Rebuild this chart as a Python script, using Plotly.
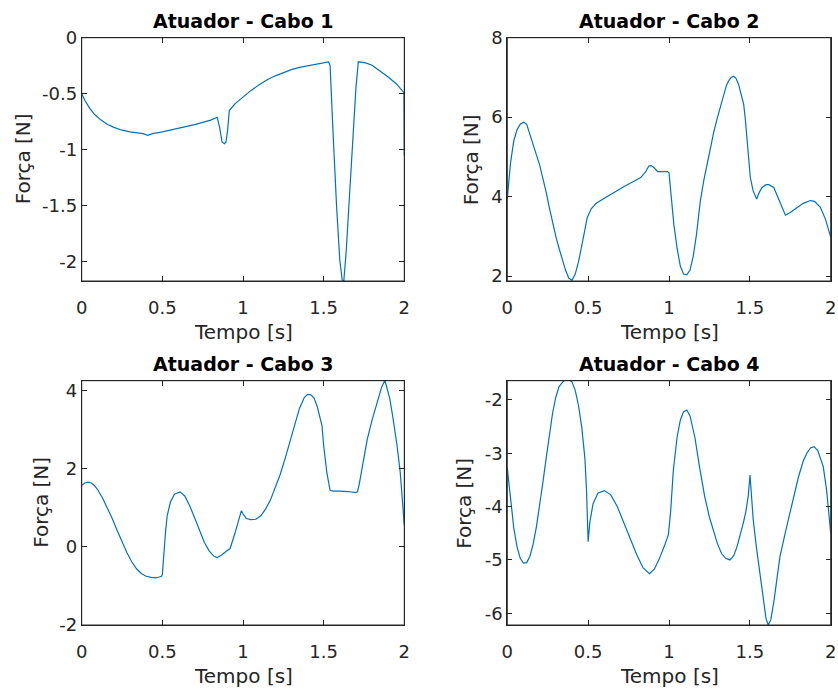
import plotly.graph_objects as go

# ---------------- data ----------------
t1 = [0.00, 0.02, 0.05, 0.08, 0.12, 0.16, 0.20, 0.25, 0.30, 0.35, 0.38, 0.41, 0.44,
      0.50, 0.60, 0.70, 0.80, 0.84, 0.855, 0.87, 0.885, 0.895, 0.905, 0.915, 0.95,
      1.00, 1.05, 1.10, 1.15, 1.20, 1.25, 1.30, 1.35, 1.40, 1.45, 1.50, 1.53, 1.54,
      1.545, 1.56, 1.58, 1.60, 1.615, 1.625, 1.64, 1.66, 1.68, 1.70, 1.715, 1.73,
      1.76, 1.80, 1.85, 1.90, 1.95, 1.998, 2.00]
f1 = [-0.50, -0.56, -0.63, -0.685, -0.735, -0.775, -0.80, -0.825, -0.84, -0.85, -0.855, -0.87, -0.855,
      -0.84, -0.81, -0.775, -0.735, -0.71, -0.80, -0.93, -0.945, -0.93, -0.82, -0.65, -0.59,
      -0.53, -0.47, -0.42, -0.375, -0.34, -0.31, -0.285, -0.265, -0.25, -0.235, -0.222, -0.215, -0.25,
      -0.45, -0.90, -1.50, -1.98, -2.16, -2.17, -1.90, -1.40, -0.90, -0.45, -0.215, -0.217,
      -0.225, -0.245, -0.295, -0.35, -0.41, -0.49, -1.05]

t2 = [0.00, 0.02, 0.04, 0.06, 0.08, 0.10, 0.12, 0.14, 0.16, 0.18, 0.20, 0.22, 0.24, 0.26,
      0.28, 0.30, 0.32, 0.34, 0.36, 0.38, 0.40, 0.42, 0.44, 0.46, 0.48, 0.495, 0.52, 0.55,
      0.60, 0.66, 0.72, 0.78, 0.825, 0.855, 0.875, 0.89, 0.91, 0.93, 0.99, 1.00,
      1.01, 1.03, 1.05, 1.07, 1.09, 1.11, 1.13, 1.15, 1.17, 1.194, 1.215, 1.235, 1.255, 1.276,
      1.297, 1.317, 1.338, 1.355, 1.37, 1.385, 1.40, 1.415, 1.43, 1.445, 1.462, 1.472, 1.482,
      1.493, 1.503, 1.52, 1.542, 1.56, 1.576, 1.60, 1.617, 1.648, 1.67, 1.689, 1.705, 1.72,
      1.75, 1.792, 1.83, 1.874, 1.90, 1.936, 1.967, 2.00]
f2 = [3.95, 4.85, 5.40, 5.68, 5.82, 5.87, 5.82, 5.58, 5.33, 5.05, 4.80, 4.48, 4.12, 3.72,
      3.35, 3.00, 2.70, 2.40, 2.15, 1.95, 1.89, 2.05, 2.35, 2.75, 3.15, 3.48, 3.70, 3.83,
      3.96, 4.11, 4.25, 4.38, 4.48, 4.62, 4.77, 4.78, 4.72, 4.63, 4.63, 4.60,
      4.20, 3.30, 2.70, 2.25, 2.05, 2.03, 2.15, 2.50, 3.05, 3.90, 4.40, 4.82, 5.25, 5.61,
      5.95, 6.23, 6.57, 6.80, 6.92, 7.00, 7.03, 6.97, 6.83, 6.62, 6.32, 5.95, 5.48,
      4.95, 4.48, 4.15, 3.94, 4.12, 4.23, 4.30, 4.30, 4.23, 4.02, 3.86, 3.68, 3.53,
      3.60, 3.73, 3.83, 3.90, 3.88, 3.73, 3.44, 2.98]

t3 = [0.00, 0.02, 0.04, 0.06, 0.08, 0.10, 0.13, 0.16, 0.19, 0.22, 0.25, 0.28, 0.31, 0.34,
      0.37, 0.40, 0.43, 0.46, 0.48, 0.495, 0.50, 0.51, 0.52, 0.53, 0.55, 0.575, 0.61, 0.64,
      0.67, 0.70, 0.73, 0.76, 0.79, 0.82, 0.84, 0.87, 0.90, 0.92, 0.95, 0.98, 0.99, 1.00,
      1.02, 1.05, 1.08, 1.11, 1.14, 1.17, 1.20, 1.23, 1.26, 1.29, 1.32, 1.35, 1.38, 1.40,
      1.42, 1.44, 1.46, 1.48, 1.49, 1.50, 1.52, 1.54, 1.56, 1.60, 1.65, 1.70, 1.71, 1.72,
      1.74, 1.77, 1.80, 1.83, 1.86, 1.88, 1.91, 1.93, 1.955, 1.975, 1.99, 2.00]
f3 = [1.58, 1.64, 1.66, 1.64, 1.57, 1.46, 1.25, 1.00, 0.72, 0.42, 0.13, -0.14, -0.38, -0.56,
      -0.68, -0.75, -0.78, -0.79, -0.77, -0.75, -0.70, -0.10, 0.40, 0.80, 1.15, 1.35, 1.41, 1.30,
      1.05, 0.75, 0.42, 0.12, -0.10, -0.24, -0.27, -0.20, -0.10, -0.04, 0.35, 0.80, 0.93, 0.85,
      0.73, 0.70, 0.71, 0.80, 0.97, 1.20, 1.50, 1.85, 2.25, 2.70, 3.15, 3.55, 3.83, 3.91,
      3.90, 3.82, 3.60, 3.30, 3.10, 2.60, 1.90, 1.45, 1.43, 1.43, 1.42, 1.39, 1.42, 1.60,
      2.10, 2.75, 3.25, 3.70, 4.10, 4.27, 3.80, 3.30, 2.60, 1.90, 1.20, 0.55]

t4 = [0.00, 0.02, 0.04, 0.06, 0.08, 0.10, 0.12, 0.14, 0.16, 0.18, 0.20, 0.22, 0.24, 0.26,
      0.28, 0.30, 0.32, 0.35, 0.38, 0.40, 0.42, 0.44, 0.46, 0.48, 0.49, 0.50, 0.51, 0.53,
      0.56, 0.60, 0.64, 0.68, 0.72, 0.76, 0.80, 0.84, 0.88, 0.91, 0.94, 0.97, 0.996, 1.01,
      1.027, 1.05, 1.07, 1.09, 1.11, 1.13, 1.16, 1.19, 1.22, 1.25, 1.274, 1.30, 1.325, 1.35,
      1.377, 1.40, 1.42, 1.439, 1.46, 1.475, 1.49, 1.501, 1.51, 1.521, 1.54, 1.563, 1.585,
      1.60, 1.614, 1.63, 1.65, 1.686, 1.72, 1.745, 1.769, 1.80, 1.83, 1.852, 1.875, 1.897,
      1.92, 1.954, 1.975, 2.00]
f4 = [-3.28, -3.90, -4.40, -4.75, -4.97, -5.06, -5.05, -4.93, -4.70, -4.38, -4.00, -3.55, -3.10, -2.65,
      -2.25, -1.95, -1.75, -1.64, -1.62, -1.66, -1.82, -2.10, -2.50, -3.10, -3.70, -4.66, -4.30, -3.95,
      -3.75, -3.70, -3.78, -4.00, -4.30, -4.60, -4.90, -5.15, -5.26, -5.17, -4.98, -4.75, -4.53, -4.10,
      -3.31, -2.70, -2.38, -2.22, -2.19, -2.30, -2.70, -3.28, -3.80, -4.20, -4.44, -4.70, -4.88, -4.97,
      -5.00, -4.92, -4.76, -4.56, -4.30, -4.10, -3.80, -3.41, -3.80, -4.25, -4.75, -5.31, -5.80,
      -6.10, -6.22, -6.12, -5.75, -4.94, -4.48, -4.14, -3.81, -3.45, -3.15, -3.00, -2.90, -2.875,
      -2.95, -3.25, -3.70, -4.50]

titles = ["Atuador - Cabo 1", "Atuador - Cabo 2", "Atuador - Cabo 3", "Atuador - Cabo 4"]
x_label = "Tempo [s]"
y_label = "Força [N]"

x_ticks = [0, 0.5, 1, 1.5, 2]
x_ticktext = ["0", "0.5", "1", "1.5", "2"]
y1_ticks = [0, -0.5, -1, -1.5, -2]
y1_ticktext = ["0", "-0.5", "-1", "-1.5", "-2"]
y2_ticks = [2, 4, 6, 8]
y2_ticktext = ["2", "4", "6", "8"]
y3_ticks = [-2, 0, 2, 4]
y3_ticktext = ["-2", "0", "2", "4"]
y4_ticks = [-6, -5, -4, -3, -2]
y4_ticktext = ["-6", "-5", "-4", "-3", "-2"]

# ---------------- figure ----------------
W, H = 838, 693
FONT = "DejaVu Sans, Liberation Sans, Arial, sans-serif"
TXT = "#262626"
BLUE = "#0072BD"

fig = go.Figure()
series = [(t1, f1), (t2, f2), (t3, f3), (t4, f4)]
for i, (t, f) in enumerate(series):
    fig.add_trace(go.Scatter(x=t, y=f, mode="lines",
                             line=dict(color=BLUE, width=1.2),
                             xaxis="x" if i == 0 else f"x{i+1}",
                             yaxis="y" if i == 0 else f"y{i+1}",
                             showlegend=False, hoverinfo="skip"))

# plot areas in pixels (left, right, top, bottom)
boxes = [(81.7, 404.3, 37.7, 281.0), (507.3, 830.7, 37.7, 281.0),
         (81.7, 404.3, 380.7, 625.0), (507.3, 830.7, 380.7, 625.0)]
yranges = [[-2.17, 0], [1.875, 8], [-2.0, 4.26], [-6.22, -1.64]]
yticks = [(y1_ticks, y1_ticktext), (y2_ticks, y2_ticktext),
          (y3_ticks, y3_ticktext), (y4_ticks, y4_ticktext)]
ylabel_x = [23, 471, 41, 464]

common = dict(showline=True, mirror="ticks", linecolor=TXT, linewidth=1,
              ticks="inside", ticklen=5, tickcolor=TXT, tickwidth=1,
              showgrid=False, zeroline=False, automargin=False,
              tickfont=dict(family=FONT, size=18, color=TXT))

layout = dict(width=W, height=H, margin=dict(l=0, r=0, t=0, b=0, pad=0, autoexpand=False),
              template="none",
              paper_bgcolor="white", plot_bgcolor="white", showlegend=False)
annotations = []
shapes = []
for i, (l, r, tp, bt) in enumerate(boxes):
    xs = "xaxis" if i == 0 else f"xaxis{i+1}"
    ys = "yaxis" if i == 0 else f"yaxis{i+1}"
    yid = "y" if i == 0 else f"y{i+1}"
    xid = "x" if i == 0 else f"x{i+1}"
    layout[xs] = dict(domain=[l / W, r / W], range=[0, 2], anchor=yid,
                      tickvals=x_ticks, ticktext=x_ticktext,
                      ticklabelstandoff=10, **common)
    layout[ys] = dict(domain=[1 - bt / H, 1 - tp / H], range=yranges[i], anchor=xid,
                      tickvals=yticks[i][0], ticktext=yticks[i][1],
                      ticklabelstandoff=0, **common)
    shapes.append(dict(type="rect", xref=f"{xid} domain", yref=f"{yid} domain",
                       x0=0, x1=1, y0=0, y1=1, line=dict(color=TXT, width=1),
                       fillcolor="rgba(0,0,0,0)", layer="above"))
    cx = (l + r) / 2
    annotations.append(dict(text=f"<b>{titles[i]}</b>", x=cx / W, y=1 - (tp - 17) / H,
                            xref="paper", yref="paper", showarrow=False,
                            xanchor="center", yanchor="middle",
                            font=dict(family=FONT, size=19, color="black")))
    annotations.append(dict(text=x_label, x=cx / W, y=1 - (bt + 51) / H,
                            xref="paper", yref="paper", showarrow=False,
                            xanchor="center", yanchor="middle",
                            font=dict(family=FONT, size=20, color=TXT)))
    annotations.append(dict(text=y_label, x=ylabel_x[i] / W, y=1 - ((tp + bt) / 2) / H,
                            xref="paper", yref="paper", showarrow=False, textangle=-90,
                            xanchor="center", yanchor="middle",
                            font=dict(family=FONT, size=20, color=TXT)))
layout["annotations"] = annotations
layout["shapes"] = shapes
fig.update_layout(**layout)

fig.write_html("out.html", config={"displayModeBar": False},
               post_script="document.body.style.margin='0px';document.body.style.overflow='hidden';")
